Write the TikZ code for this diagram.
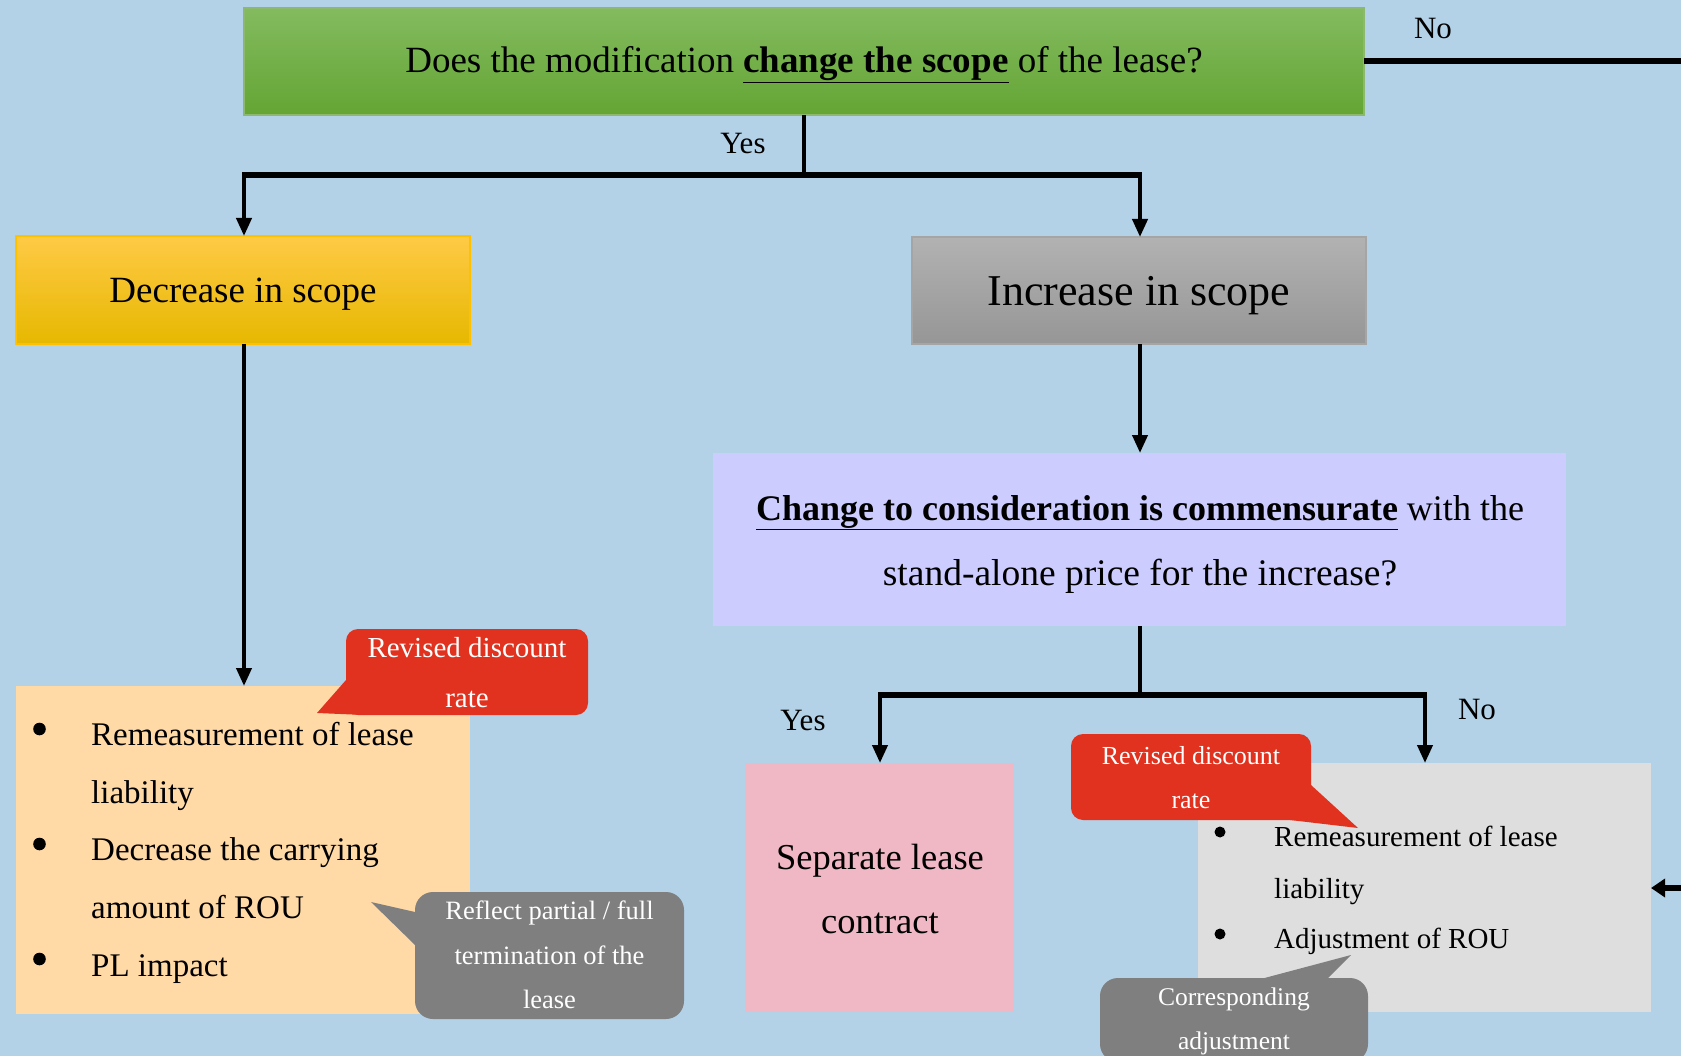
\documentclass[tikz,border=0pt]{standalone}
\usepackage{fontspec}
\setmainfont{Liberation Serif}
\usetikzlibrary{arrows.meta}
\definecolor{bgblue}{RGB}{179,210,231}
\definecolor{gtop}{RGB}{131,187,95}
\definecolor{gbot}{RGB}{100,165,52}
\definecolor{gline}{RGB}{140,185,110}
\definecolor{otop}{RGB}{255,202,70}
\definecolor{omid}{RGB}{255,192,0}
\definecolor{obot}{RGB}{230,184,0}
\definecolor{itop}{RGB}{178,178,178}
\definecolor{ibot}{RGB}{150,150,150}
\definecolor{iline}{RGB}{165,165,165}
\definecolor{peach}{RGB}{255,218,166}
\definecolor{lavender}{RGB}{204,204,255}
\definecolor{pinkbox}{RGB}{240,184,196}
\definecolor{lgray}{RGB}{222,222,222}
\definecolor{calred}{RGB}{224,50,30}
\definecolor{calgray}{RGB}{127,127,127}
\newcommand\fsz[1]{\fontsize{#1}{#1}\selectfont}
\begin{document}
\begin{tikzpicture}[x=1pt,y=-1pt,
  box/.style={inner sep=0pt, outer sep=0pt},
  txt/.style={inner sep=0pt, anchor=base},
  btxt/.style={inner sep=0pt, anchor=base west},
  flow/.style={line width=4pt},
  flowarrow/.style={line width=4pt, -{Triangle[width=15pt,length=18pt]}},
  bar/.style={line width=6pt, shorten <=-2pt, shorten >=-2pt},
  calloutred/.style={box, fill=calred, rounded corners=12pt},
  calloutgray/.style={box, fill=calgray, rounded corners=18pt},
  wtxt/.style={txt, text=white}]
\fill[bgblue] (0,0) rectangle (1681,1056);
\useasboundingbox (0,0) rectangle (1681,1056);

% main boxes
\node[box, minimum width=1120, minimum height=107, top color=gtop, bottom color=gbot, draw=gline, line width=1.5pt] (q1) at (804,61.5) {};
\node[txt, font=\fsz{37}] (q1t) at (804,73) {Does the modification \textbf{\underline{change the scope}} of the lease?};
\node[box, minimum width=454, minimum height=108, top color=otop, middle color=omid, bottom color=obot, draw=omid, line width=1.5pt] (dec) at (243,290) {};
\node[txt, font=\fsz{37}] (dect) at (243,303) {Decrease in scope};
\node[box, minimum width=454, minimum height=107, top color=itop, bottom color=ibot, draw=iline, line width=1.5pt] (inc) at (1139,290.5) {};
\node[txt, font=\fsz{44}] (inct) at (1139,306) {Increase in scope};
\node[box, minimum width=454, minimum height=328, fill=peach] (dres) at (243,850) {};
\node[box, minimum width=853, minimum height=173, fill=lavender] (q2) at (1139.5,539.5) {};
\node[txt, font=\fsz{36}] (q2a) at (1140,520) {\textbf{\underline{Change to consideration is commensurate}} with the};
\node[txt, font=\fsz{37.5}] (q2b) at (1140,585) {stand-alone price for the increase?};
\node[box, minimum width=269, minimum height=249, fill=pinkbox] (sep) at (879.5,887.5) {};
\node[txt, font=\fsz{36.5}] (sepa) at (880,869) {Separate lease};
\node[txt, font=\fsz{36.5}] (sepb) at (880,933) {contract};
\node[box, minimum width=453, minimum height=249, fill=lgray] (mod) at (1424.5,887.5) {};

% bullets left
\fill (39.5,729) circle (6.3);
\fill (39.5,844) circle (6.3);
\fill (39.5,959) circle (6.3);
\node[btxt, font=\fsz{33}] (t1) at (91,745) {Remeasurement of lease};
\node[btxt, font=\fsz{33}] (t2) at (91,803) {liability};
\node[btxt, font=\fsz{33}] (t3) at (91,860) {Decrease the carrying};
\node[btxt, font=\fsz{33}] (t4) at (91,918) {amount of ROU};
\node[btxt, font=\fsz{33}] (t5) at (91,976) {PL impact};

% bullets right
\fill (1220,832) circle (5.5);
\fill (1220,934) circle (5.5);
\node[btxt, font=\fsz{29}] (rt1) at (1274,846) {Remeasurement of lease};
\node[btxt, font=\fsz{29}] (rt2) at (1274,898) {liability};
\node[btxt, font=\fsz{29}] (rt3) at (1274,948) {Adjustment of ROU};

% connectors
\coordinate (j1) at (804,175);
\coordinate (jl) at (244,175);
\coordinate (jr) at (1140,175);
\draw[flow] (q1.south) -- (j1);
\draw[bar] (jl) -- (jr);
\draw[flowarrow] (jl) -- (dec.north -| jl);
\draw[flowarrow] (jr) -- (inc.north -| jr);
\draw[flowarrow] (dec.south -| jl) -- (dres.north -| jl);
\draw[flowarrow] (inc.south -| jr) -- (q2.north -| jr);
\coordinate (j2) at (1140,695);
\coordinate (j2l) at (880,695);
\coordinate (j2r) at (1425,695);
\draw[flow] (q2.south -| j2) -- (j2);
\draw[bar] (j2l) -- (j2r);
\draw[flowarrow] (j2l) -- (sep.north -| j2l);
\draw[flowarrow] (j2r) -- (mod.north -| j2r);
\coordinate (noend) at (1681,61.5);
\draw[line width=6pt] (q1.east) -- (noend);
\coordinate (inend) at (1681,888);
\draw[line width=6pt, -{Triangle[width=18pt,length=14pt]}] (inend) -- (mod.east |- inend);

% labels
\node[txt, font=\fsz{31}] (no1) at (1433,39) {No};
\node[txt, font=\fsz{31}] (yes1) at (743,154) {Yes};
\node[txt, font=\fsz{31}] (yes2) at (803,730) {Yes};
\node[txt, font=\fsz{31}] (no2) at (1477,719) {No};

% callouts
\fill[calred] (346,680) -- (317,713) -- (364,715) -- cycle;
\node[calloutred, minimum width=242, minimum height=86] (c1) at (467,672) {};
\node[wtxt, font=\fsz{29}] (c1a) at (467,657) {Revised discount};
\node[wtxt, font=\fsz{29}] (c1b) at (467,707) {rate};
\fill[calgray] (415,912) -- (371,902) -- (415,945) -- cycle;
\node[calloutgray, minimum width=269, minimum height=127] (c2) at (549.5,955.5) {};
\node[wtxt, font=\fsz{26.5}] (c2a) at (549.5,919) {Reflect partial / full};
\node[wtxt, font=\fsz{26.5}] (c2b) at (549.5,964) {termination of the};
\node[wtxt, font=\fsz{26.5}] (c2c) at (549.5,1008) {lease};
\fill[calred] (1311,785) -- (1358,828) -- (1290,820) -- cycle;
\node[calloutred, minimum width=240, minimum height=86] (c3) at (1191,777) {};
\node[wtxt, font=\fsz{26}] (c3a) at (1191,764) {Revised discount};
\node[wtxt, font=\fsz{26}] (c3b) at (1191,808) {rate};
\fill[calgray] (1257,980) -- (1351,955) -- (1326,980) -- cycle;
\node[calloutgray, minimum width=268, minimum height=84] (c4) at (1234,1020) {};
\node[wtxt, font=\fsz{25.5}] (c4a) at (1234,1005) {Corresponding};
\node[wtxt, font=\fsz{25.5}] (c4b) at (1234,1049) {adjustment};
\end{tikzpicture}
\end{document}
